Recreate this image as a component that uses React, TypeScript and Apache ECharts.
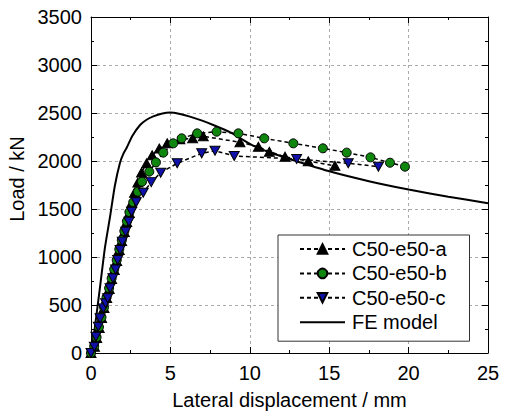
import React, { useEffect, useRef } from "react";
import * as echarts from "echarts";

// Series C50-e50-a (displacement mm, load kN)
const aX = [0, 0.22, 0.36, 0.52, 0.67, 0.82, 0.99, 1.15, 1.30, 1.47, 1.62, 1.78, 1.93, 2.10, 2.25, 2.41, 2.56, 2.74, 2.95, 3.18, 3.5, 3.85, 4.3, 4.8, 5.6, 6.4, 7.07, 9.38, 10.54, 11.23, 12.22, 13.68, 15.36];
const aY = [0, 66, 156, 260, 365, 469, 573, 667, 771, 865, 958, 1073, 1167, 1260, 1365, 1458, 1562, 1670, 1775, 1880, 1975, 2060, 2130, 2185, 2225, 2236, 2258, 2195, 2149, 2097, 2045, 1998, 1950];

// Series C50-e50-b
const bX = [0, 0.2, 0.35, 0.5, 0.66, 0.82, 0.98, 1.14, 1.3, 1.46, 1.62, 1.78, 1.94, 2.1, 2.26, 2.42, 2.66, 2.95, 3.21, 3.67, 4.09, 4.55, 5.18, 5.71, 6.69, 7.91, 9.28, 10.91, 12.74, 14.6, 16.1, 17.6, 18.83, 19.77];
const bY = [0, 70, 165, 270, 372, 476, 580, 675, 778, 872, 968, 1080, 1175, 1270, 1372, 1468, 1570, 1680, 1784, 1889, 1986, 2087, 2184, 2236, 2288, 2305, 2288, 2236, 2184, 2132, 2087, 2038, 1982, 1941];

// Series C50-e50-c
const cX = [0, 0.21, 0.31, 0.46, 0.57, 0.78, 0.92, 1.05, 1.2, 1.38, 1.55, 1.68, 1.83, 1.97, 2.18, 2.39, 2.56, 2.85, 3.29, 3.79, 4.39, 5.43, 6.97, 7.81, 9.02, 12.95, 16.2, 18.1];
const cY = [0, 66, 170, 274, 361, 465, 518, 570, 674, 778, 870, 968, 1073, 1160, 1264, 1368, 1472, 1570, 1670, 1780, 1878, 1976, 2080, 2107, 2052, 2021, 1976, 1941];

// FE model
const feX = [0, 0.25, 0.57, 0.88, 1.2, 1.5, 1.83, 2.05, 2.24, 2.6, 3.09, 3.5, 3.92, 4.5, 4.97, 5.6, 6.23, 7.0, 7.7, 8.75, 10.2, 11.5, 13.0, 15.0, 17.5, 20.0, 22.5, 25];
const feY = [0, 275, 690, 1100, 1420, 1740, 1985, 2080, 2135, 2260, 2375, 2430, 2465, 2495, 2505, 2490, 2462, 2420, 2375, 2300, 2160, 2075, 1995, 1893, 1790, 1703, 1628, 1560];

const seriesNames = ["C50-e50-a", "C50-e50-b", "C50-e50-c", "FE model"];

const pairs = (xs: number[], ys: number[]) => xs.map((x, i) => [x, ys[i]]);

export default function App() {
  const ref = useRef<HTMLDivElement>(null);
  useEffect(() => {
    const chart = echarts.init(ref.current!, null, { renderer: "svg" });
    const font = "'Liberation Sans', Arial, Helvetica, sans-serif";
    const black = "#000";
    const grid = { color: "#aaaaaa", type: [3, 3] as any, width: 1 };
    const plain = (v: number) => String(v);
    const baseAxis = (extra: any) => ({
      type: "value",
      axisLine: { show: true, onZero: false, lineStyle: { color: black, width: 1 } },
      axisTick: { show: true, inside: true, length: 6, lineStyle: { color: black } },
      minorTick: { show: true, splitNumber: 2, length: 3, lineStyle: { color: black } },
      ...extra,
    });
    const dashed = { color: black, width: 1.5, type: [4, 3] as any };
    chart.setOption({
      animation: false,
      backgroundColor: "#fff",
      textStyle: { fontFamily: font },
      grid: { left: 91, right: 20, top: 17, bottom: 63, containLabel: false, outerBoundsMode: "none" },
      legend: {
        data: [
          seriesNames[0],
          seriesNames[1],
          seriesNames[2],
          { name: seriesNames[3], icon: "path://M0,0L45,0L45,2L0,2Z" },
        ],
        orient: "vertical",
        left: 278,
        top: 235,
        backgroundColor: "#fff",
        borderColor: "#333",
        borderWidth: 1,
        borderRadius: 0,
        padding: [4, 23, 9, 21],
        itemWidth: 45,
        itemHeight: 12,
        itemGap: 4.4,
        textStyle: { color: black, fontSize: 20, fontFamily: font, lineHeight: 20, padding: [0, 0, 0, 2] },
      },
      xAxis: [
        baseAxis({
          position: "bottom",
          min: 0,
          max: 25,
          interval: 5,
          splitLine: { show: true, lineStyle: grid },
          axisLabel: { show: true, color: black, fontSize: 20, fontFamily: font, margin: 10, formatter: plain },
          name: "Lateral displacement / mm",
          nameLocation: "middle",
          nameGap: 37,
          nameTextStyle: { color: black, fontSize: 20, fontFamily: font },
        }),
        baseAxis({
          position: "top",
          min: 0,
          max: 25,
          interval: 5,
          splitLine: { show: false },
          axisLabel: { show: false },
        }),
      ],
      yAxis: [
        baseAxis({
          position: "left",
          min: 0,
          max: 3500,
          interval: 500,
          splitLine: { show: true, lineStyle: grid },
          axisLabel: { show: true, color: black, fontSize: 20, fontFamily: font, margin: 9, formatter: plain },
          name: "Load / kN",
          nameLocation: "middle",
          nameGap: 57,
          nameTextStyle: { color: black, fontSize: 20, fontFamily: font, padding: [0, 0, 0, 12] },
        }),
        baseAxis({
          position: "right",
          min: 0,
          max: 3500,
          interval: 500,
          splitLine: { show: false },
          axisLabel: { show: false },
        }),
      ],
      series: [
        {
          name: seriesNames[3],
          type: "line",
          data: pairs(feX, feY),
          showSymbol: false,
          symbol: "none",
          smooth: 0.2,
          lineStyle: { color: black, width: 2 },
          itemStyle: { color: black },
          z: 2,
        },
        {
          name: seriesNames[0],
          type: "line",
          data: pairs(aX, aY),
          symbol: "triangle",
          symbolSize: [10, 9],
          lineStyle: dashed,
          itemStyle: { color: black, borderColor: black, borderWidth: 1 },
          z: 3,
        },
        {
          name: seriesNames[1],
          type: "line",
          data: pairs(bX, bY),
          symbol: "circle",
          symbolSize: 9,
          lineStyle: dashed,
          itemStyle: { color: "#0f870f", borderColor: black, borderWidth: 1 },
          z: 4,
        },
        {
          name: seriesNames[2],
          type: "line",
          data: pairs(cX, cY),
          symbol: "triangle",
          symbolRotate: 180,
          symbolSize: [10, 9],
          lineStyle: dashed,
          itemStyle: { color: "#1010aa", borderColor: black, borderWidth: 1 },
          z: 5,
        },
      ],
    });
    return () => chart.dispose();
  }, []);
  return (
    <div
      ref={ref}
      style={{ position: "fixed", left: 0, top: 0, width: 508, height: 416, background: "#fff" }}
    />
  );
}
